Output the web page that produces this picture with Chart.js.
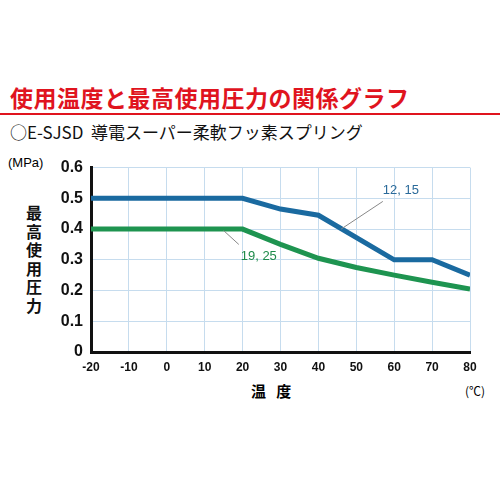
<!DOCTYPE html>
<html>
<head>
<meta charset="utf-8">
<script src="https://cdn.jsdelivr.net/npm/chart.js@4"></script>
<style>
body { margin: 0; width: 500px; height: 500px; background: #fff; font-family: "Noto Sans CJK JP", sans-serif; position: relative; overflow: hidden; }
#title { position: absolute; left: 10px; top: 80px; font-size: 23px; font-weight: bold; color: #e0141e; letter-spacing: 0.5px; }
#rule { position: absolute; left: 0; top: 113px; width: 500px; height: 2px; background: #e0141e; }
#sub { position: absolute; left: 10px; top: 119px; font-size: 17px; color: #111; }
#ylab { position: absolute; left: 26px; top: 203px; width: 18px; font-size: 16px; font-weight: bold; line-height: 18.5px; color: #111; }
#mpa { position: absolute; left: 8px; top: 155px; font-size: 13px; font-family: "Liberation Sans", sans-serif; }
#xlab { position: absolute; left: 251px; top: 380px; font-size: 15px; font-weight: bold; }
#unit { position: absolute; left: 465px; top: 382px; font-size: 12px; }
#wrap { position: absolute; left: 0; top: 150px; width: 500px; height: 250px; }
</style>
</head>
<body>
<div id="title">使用温度と最高使用圧力の関係グラフ</div>
<div id="rule"></div>
<div id="sub">○E-SJSD&nbsp; 導電スーパー柔軟フッ素スプリング</div>
<div id="mpa">(MPa)</div>
<div id="ylab">最高使用圧力</div>
<div id="xlab">温&nbsp;&nbsp;&nbsp;度</div>
<div id="unit">(℃)</div>
<div id="wrap"><canvas id="c" width="500" height="250"></canvas></div>
<script>
// 温度 (℃)
const tempBlue = [-20, 20, 30, 40, 60, 70, 80];
const pressBlue = [0.5, 0.5, 0.465, 0.445, 0.3, 0.3, 0.25];
const tempGreen = [-20, 20, 30, 40, 50, 60, 70, 80];
const pressGreen = [0.4, 0.4, 0.35, 0.305, 0.275, 0.25, 0.227, 0.205];
const xTicks = [-20, -10, 0, 10, 20, 30, 40, 50, 60, 70, 80];
const yTicks = [0, 0.1, 0.2, 0.3, 0.4, 0.5, 0.6];

function toPts(xs, ys) {
    return xs.map((x, i) => ({ x: x, y: ys[i] }));
}

// ラベルと引き出し線
const labelPlugin = {
    id: 'labels',
    afterDatasetsDraw(chart) {
        const ctx = chart.ctx, x = chart.scales.x, y = chart.scales.y;
        ctx.save();
        ctx.strokeStyle = '#888';
        ctx.lineWidth = 1;
        ctx.beginPath();
        ctx.moveTo(x.getPixelForValue(46), y.getPixelForValue(0.4));
        ctx.lineTo(x.getPixelForValue(57), y.getPixelForValue(0.49));
        ctx.moveTo(x.getPixelForValue(15), y.getPixelForValue(0.395));
        ctx.lineTo(x.getPixelForValue(19), y.getPixelForValue(0.35));
        ctx.stroke();
        ctx.font = '13px "Liberation Sans", sans-serif';
        ctx.fillStyle = '#2a6a9a';
        ctx.fillText('12, 15', x.getPixelForValue(57), y.getPixelForValue(0.515));
        ctx.fillStyle = '#1e8a4a';
        ctx.fillText('19, 25', x.getPixelForValue(19.5), y.getPixelForValue(0.3));
        ctx.restore();
    }
};

new Chart(document.getElementById('c'), {
    type: 'scatter',
    data: {
        datasets: [
            { data: toPts(tempBlue, pressBlue), showLine: true, borderColor: '#1a6aa0', borderWidth: 5, pointRadius: 0, borderJoinStyle: 'miter' },
            { data: toPts(tempGreen, pressGreen), showLine: true, borderColor: '#1e9450', borderWidth: 5, pointRadius: 0, borderJoinStyle: 'miter' }
        ]
    },
    options: {
        responsive: false,
        animation: false,
        layout: { padding: { top: 15, right: 30, left: 0, bottom: 0 } },
        plugins: { legend: { display: false }, tooltip: { enabled: false } },
        scales: {
            x: {
                type: 'linear', min: -20, max: 80,
                afterBuildTicks: s => { s.ticks = xTicks.map(v => ({ value: v })); },
                afterFit: s => { s.height = 48; },
                grid: { color: '#c6dcee', drawTicks: false },
                border: { color: '#111', width: 3 },
                ticks: { color: '#111', padding: 8, font: { size: 12, family: 'Liberation Sans', weight: 'bold' } }
            },
            y: {
                min: 0, max: 0.6,
                afterBuildTicks: s => { s.ticks = yTicks.map(v => ({ value: v })); },
                afterFit: s => { s.width = 91; },
                grid: { color: '#c6dcee', drawTicks: false },
                border: { color: '#111', width: 3 },
                ticks: { color: '#111', padding: 8, font: { size: 16, family: 'Liberation Sans', weight: 'bold' }, callback: v => v === 0 ? '0' : v.toFixed(1) }
            }
        }
    },
    plugins: [labelPlugin]
});
</script>
</body>
</html>
